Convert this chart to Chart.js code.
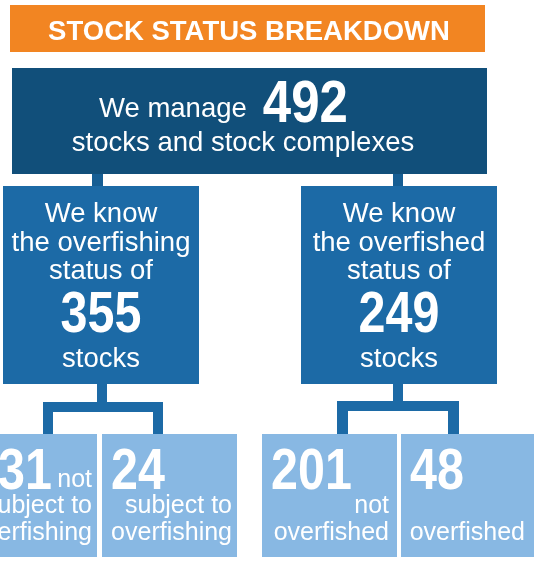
<!DOCTYPE html>
<html>
<head>
<meta charset="utf-8">
<title>Stock Status Breakdown</title>
<script src="https://cdn.jsdelivr.net/npm/chart.js@4"></script>
<style>
  body { margin: 0; background: #fff; }
  canvas { display: block; }
</style>
</head>
<body>
<canvas id="stockChart" width="538" height="563"></canvas>
<script>
'use strict';

// Data
const titleText = 'STOCK STATUS BREAKDOWN';
const totalStocks = 492;
const totalLabels = ['We manage', 'stocks and stock complexes'];
const knownCounts = [355, 249];
const knownLabels = [
  ['We know', 'the overfishing', 'status of'],
  ['We know', 'the overfished', 'status of']
];
const knownUnit = 'stocks';
const statusCounts = [331, 24, 201, 48];
const statusLabels = [
  ['not', 'subject to', 'overfishing'],
  ['subject to', 'overfishing'],
  ['not', 'overfished'],
  ['overfished']
];

// Colours
const orange = '#f28522';
const darkBlue = '#114f7a';
const midBlue = '#1c6aa6';
const lightBlue = '#88b8e3';
const stubBlue = '#165e94';

const sans = '"Liberation Sans", Arial, sans-serif';

// Layout of the boxes (pixels)
const midBoxes = [{x: 3, w: 196, cx: 101}, {x: 301, w: 196, cx: 399}];
const bottomBoxes = [
  {x: -38, w: 135, pad: 5},
  {x: 102, w: 135, pad: 5},
  {x: 262, w: 135, pad: 8},
  {x: 401, w: 133, pad: 9}
];

function rect(ctx, color, x, y, w, h){
  ctx.fillStyle = color;
  ctx.fillRect(x, y, w, h);
}

// big numbers use a condensed bold face, squeezed horizontally
function bigNumber(ctx, text, x, y, size, align){
  ctx.save();
  ctx.translate(x, y);
  ctx.scale(0.85, 1);
  ctx.font = 'bold ' + size + 'px ' + sans;
  ctx.textAlign = align;
  ctx.fillStyle = '#fff';
  ctx.fillText(text, 0, 0);
  ctx.restore();
}

const treePlugin = {
  id: 'stockTree',
  afterDraw(chart){
    const ctx = chart.ctx;
    ctx.save();
    ctx.textBaseline = 'alphabetic';

    // Header
    rect(ctx, orange, 10, 5, 475, 47);
    ctx.fillStyle = '#fff';
    ctx.textAlign = 'center';
    ctx.font = 'bold 27.5px ' + sans;
    ctx.fillText(titleText, 249, 40);

    // Top box
    rect(ctx, darkBlue, 12, 68, 475, 106);
    ctx.fillStyle = '#fff';
    ctx.textAlign = 'left';
    ctx.font = '27.5px ' + sans;
    ctx.fillText(totalLabels[0], 99, 117);
    let w = ctx.measureText(totalLabels[0]).width;
    bigNumber(ctx, String(totalStocks), 99 + w + 16, 122, 60, 'left');
    ctx.fillStyle = '#fff';
    ctx.textAlign = 'center';
    ctx.font = '27.5px ' + sans;
    ctx.fillText(totalLabels[1], 243, 151);

    // Stubs to the middle boxes
    rect(ctx, stubBlue, 92, 174, 11, 12);
    rect(ctx, stubBlue, 393, 174, 10, 12);

    // Middle boxes
    midBoxes.forEach((box, i) => {
      rect(ctx, midBlue, box.x, 186, box.w, 198);
      ctx.fillStyle = '#fff';
      ctx.textAlign = 'center';
      ctx.font = '27.5px ' + sans;
      knownLabels[i].forEach((line, j) => {
        ctx.fillText(line, box.cx, 222 + j * 28.5);
      });
      ctx.fillText(knownUnit, box.cx, 367);
      bigNumber(ctx, String(knownCounts[i]), box.cx, 332, 57, 'center');
    });

    // Connectors to the bottom boxes
    rect(ctx, midBlue, 97, 384, 10, 18);
    rect(ctx, midBlue, 43, 402, 120, 10);
    rect(ctx, midBlue, 43, 402, 10, 33);
    rect(ctx, midBlue, 153, 402, 10, 33);
    rect(ctx, midBlue, 393, 384, 10, 18);
    rect(ctx, midBlue, 337, 401, 122, 10);
    rect(ctx, midBlue, 337, 401, 11, 34);
    rect(ctx, midBlue, 448, 401, 11, 34);

    // Bottom boxes
    const lineY = [487, 513, 540];
    bottomBoxes.forEach((box, i) => {
      rect(ctx, lightBlue, box.x, 434, box.w, 123);
      bigNumber(ctx, String(statusCounts[i]), box.x + 9, 489, 57, 'left');
      ctx.fillStyle = '#fff';
      ctx.textAlign = 'right';
      ctx.font = '25px ' + sans;
      const lines = statusLabels[i];
      lines.forEach((line, j) => {
        ctx.fillText(line, box.x + box.w - box.pad, lineY[3 - lines.length + j]);
      });
    });

    ctx.restore();
  }
};

new Chart(document.getElementById('stockChart'), {
  type: 'bar',
  data: {
    labels: ['total', 'overfishing known', 'overfished known'],
    datasets: [{
      data: [totalStocks, knownCounts[0], knownCounts[1]],
      backgroundColor: 'rgba(0,0,0,0)'
    }]
  },
  options: {
    responsive: false,
    animation: false,
    devicePixelRatio: 1,
    events: [],
    layout: {padding: 0},
    plugins: {
      legend: {display: false},
      tooltip: {enabled: false}
    },
    scales: {
      x: {display: false},
      y: {display: false}
    }
  },
  plugins: [treePlugin]
});
</script>
</body>
</html>
